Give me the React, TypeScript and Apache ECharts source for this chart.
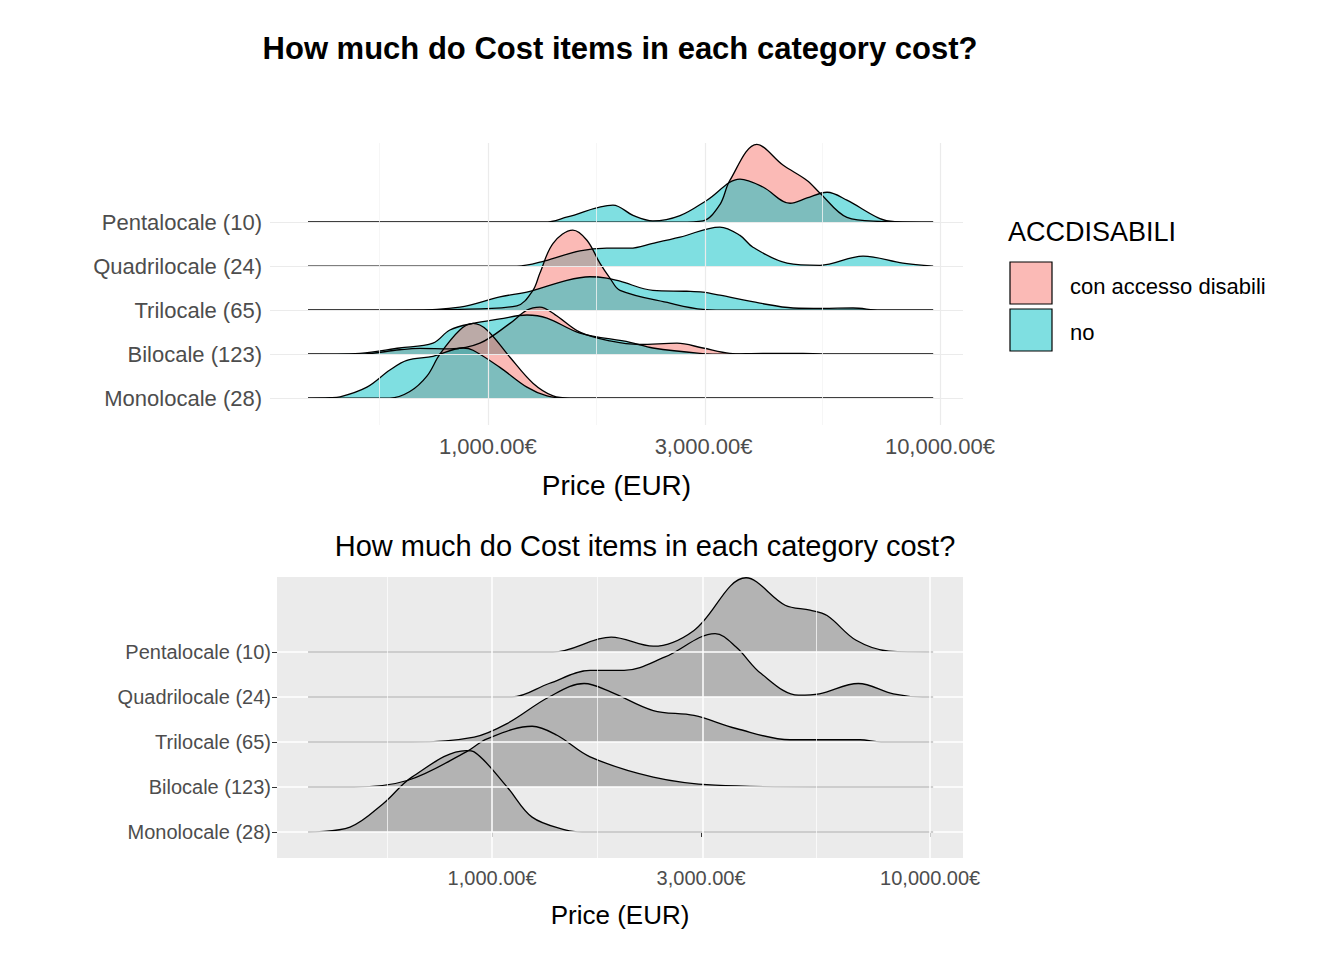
import { useEffect, useRef } from 'react';
import * as echarts from 'echarts';

const rows = ['Monolocale (28)', 'Bilocale (123)', 'Trilocale (65)', 'Quadrilocale (24)', 'Pentalocale (10)'];
const priceTicks = [1000, 3000, 10000];
const majorGrid = [1000, 3000, 10000];
const minorGrid = [577, 1732, 5477];

type Pt = [number, number];

// top chart: [price EUR, ridge height in row units], per row, per group
const pentaPink: Pt[] = [[400, 0], [2661, 0], [2990, 0.03], [3260, 0.4], [3430, 0.95], [3935, 1.77], [4494, 1.3], [5081, 0.95], [5430, 0.66], [6227, 0.11], [7367, 0.02], [9660, 0]];
const pentaNo: Pt[] = [[400, 0], [1337, 0], [1500, 0.12], [1891, 0.39], [2100, 0.15], [2317, 0.03], [2661, 0.15], [3052, 0.5], [3611, 0.98], [4059, 0.8], [4661, 0.43], [5081, 0.55], [5628, 0.68], [6227, 0.5], [7367, 0.08], [7949, 0.01], [9660, 0]];
const quadriNo: Pt[] = [[400, 0], [1159, 0], [1337, 0.12], [1598, 0.35], [1832, 0.41], [2062, 0.41], [2317, 0.52], [2661, 0.66], [3260, 0.89], [3611, 0.7], [3858, 0.43], [4590, 0.07], [5430, 0.02], [6760, 0.23], [8279, 0.07], [9660, 0]];
const triPink: Pt[] = [[400, 0], [867, 0.02], [1159, 0.1], [1258, 0.45], [1303, 0.84], [1394, 1.52], [1541, 1.82], [1656, 1.59], [1769, 1.07], [1862, 0.73], [1960, 0.45], [2528, 0.16], [2990, 0.02], [3500, 0], [9660, 0]];
const triNo: Pt[] = [[400, 0], [672, 0], [867, 0.07], [1063, 0.3], [1239, 0.43], [1495, 0.68], [1682, 0.76], [1832, 0.73], [1960, 0.66], [2317, 0.45], [2754, 0.43], [2990, 0.41], [3260, 0.34], [3998, 0.16], [4731, 0.05], [5500, 0.04], [6423, 0.05], [7367, 0], [9660, 0]];
const biPink: Pt[] = [[400, 0], [521, 0], [638, 0.1], [707, 0.13], [824, 0.12], [960, 0.25], [1119, 0.7], [1220, 1.0], [1303, 1.07], [1407, 0.9], [1598, 0.5], [1862, 0.3], [2168, 0.22], [2620, 0.25], [2990, 0.14], [3430, 0.02], [4000, 0], [9660, 0]];
const biNo: Pt[] = [[400, 0], [521, 0.02], [638, 0.14], [756, 0.25], [824, 0.55], [927, 0.7], [1063, 0.8], [1220, 0.89], [1351, 0.82], [1598, 0.48], [2062, 0.27], [2317, 0.14], [2943, 0.02], [3400, 0], [4059, 0.02], [4979, 0.02], [5500, 0], [9660, 0]];
const monoPink: Pt[] = [[400, 0], [607, 0], [672, 0.15], [733, 0.5], [783, 1.0], [867, 1.55], [927, 1.7], [995, 1.55], [1119, 0.93], [1258, 0.34], [1394, 0.05], [1518, 0], [9660, 0]];
const monoNo: Pt[] = [[400, 0], [447, 0.01], [471, 0.03], [540, 0.25], [607, 0.64], [662, 0.86], [756, 0.95], [881, 1.14], [927, 1.09], [1063, 0.7], [1220, 0.25], [1351, 0.05], [1500, 0], [9660, 0]];

// bottom chart: all groups together
const pentaAll: Pt[] = [[380, 0], [1378, 0], [1870, 0.33], [2333, 0.13], [2890, 0.48], [3800, 1.65], [4667, 1.04], [5322, 0.93], [5817, 0.81], [6777, 0.26], [8053, 0.02], [10160, 0]];
const quadriAll: Pt[] = [[380, 0], [1111, 0], [1349, 0.3], [1674, 0.59], [2002, 0.59], [2483, 0.89], [3229, 1.41], [3606, 1.11], [4113, 0.52], [5005, 0.04], [5585, 0.07], [6854, 0.3], [8240, 0.07], [9590, 0], [10160, 0]];
const triAll: Pt[] = [[380, 0], [656, 0], [910, 0.11], [1082, 0.41], [1349, 1.0], [1622, 1.3], [1870, 1.11], [2333, 0.7], [2890, 0.59], [3606, 0.3], [4786, 0.05], [6919, 0.05], [7727, 0], [10160, 0]];
const biAll: Pt[] = [[380, 0], [484, 0], [643, 0.15], [873, 0.78], [974, 1.07], [1234, 1.35], [1407, 1.15], [1674, 0.67], [2333, 0.22], [3229, 0.04], [5457, 0], [10160, 0]];
const monoAll: Pt[] = [[380, 0], [474, 0.11], [564, 0.63], [656, 1.22], [873, 1.81], [910, 1.78], [1082, 1.0], [1234, 0.33], [1476, 0.04], [1604, 0], [10160, 0]];

const PINK = 'rgba(248,118,109,0.5)';
const CYAN = 'rgba(0,191,196,0.5)';
const GREY = '#B3B3B3';
const FONT = 'Liberation Sans';

function ridge(points: Pt[], base: number, color: string, axis: number) {
  return {
    type: 'line' as const,
    xAxisIndex: axis,
    yAxisIndex: axis,
    data: points.map(([p, h]) => [Math.log10(p), base + h]),
    smooth: 0.35,
    showSymbol: false,
    silent: true,
    lineStyle: { color: '#000', width: 1.3 },
    areaStyle: { color, opacity: 1, origin: base },
  };
}

function gridSeries(axis: number, major: string, minor: string, majorW: number, minorW: number) {
  const v = (p: number, c: string, w: number) => ({ xAxis: Math.log10(p), lineStyle: { color: c, width: w, type: 'solid' as const } });
  return {
    type: 'line' as const,
    xAxisIndex: axis,
    yAxisIndex: axis,
    data: [],
    z: 1,
    markLine: {
      silent: true,
      symbol: ['none', 'none'],
      label: { show: false },
      data: [
        ...majorGrid.map(p => v(p, major, majorW)),
        ...minorGrid.map(p => v(p, minor, minorW)),
        ...rows.map((_, i) => ({ yAxis: i, lineStyle: { color: major, width: majorW, type: 'solid' as const } })),
      ],
    },
  };
}

const fmtPrice = (v: number) =>
  Math.round(Math.pow(10, v)).toLocaleString('en-US', { minimumFractionDigits: 2, maximumFractionDigits: 2 }) + '€';

function xAxis(grid: number, min: number, max: number, fs: number, nameFs: number, gap: number) {
  const vals = priceTicks.map(p => Math.log10(p));
  return {
    type: 'value' as const,
    gridIndex: grid,
    min,
    max,
    name: 'Price (EUR)',
    nameLocation: 'middle' as const,
    nameGap: gap,
    nameTextStyle: { fontSize: nameFs, color: '#000', fontFamily: FONT },
    axisLine: { show: false },
    axisTick: grid === 1 ? { show: true, customValues: vals, length: 5, lineStyle: { color: '#333' } } : { show: false },
    splitLine: { show: false },
    axisLabel: { customValues: vals, formatter: fmtPrice, fontSize: fs, color: '#4D4D4D', fontFamily: FONT, margin: 10 },
  };
}

function yAxis(grid: number, min: number, max: number, fs: number) {
  const vals = rows.map((_, i) => i);
  return {
    type: 'value' as const,
    gridIndex: grid,
    min,
    max,
    axisLine: { show: false },
    axisTick: grid === 1 ? { show: true, customValues: vals, length: 5, lineStyle: { color: '#333' } } : { show: false },
    splitLine: { show: false },
    axisLabel: { customValues: vals, formatter: (v: number) => rows[Math.round(v)] ?? '', fontSize: fs, color: '#4D4D4D', fontFamily: FONT, margin: grid === 1 ? 6 : 8 },
  };
}

export default function App() {
  const ref = useRef<HTMLDivElement>(null);

  useEffect(() => {
    if (!ref.current) return;
    document.body.style.margin = '0';
    const chart = echarts.init(ref.current, null, { renderer: 'svg' });
    chart.setOption({
      animation: false,
      grid: [
        { left: 270, width: 693, top: 143, height: 282 },
        { left: 277, width: 686, top: 577, height: 281, show: true, backgroundColor: '#EBEBEB', borderWidth: 0 },
      ],
      xAxis: [xAxis(0, 2.518, 4.051, 22, 28, 46), xAxis(1, 2.509, 4.075, 20, 26, 44)],
      yAxis: [yAxis(0, -0.61, 5.8, 22), yAxis(1, -0.578, 5.667, 20)],
      series: [
        gridSeries(0, '#EBEBEB', '#F4F4F4', 1.2, 0.8),
        ridge(pentaPink, 4, PINK, 0),
        ridge(pentaNo, 4, CYAN, 0),
        ridge(quadriNo, 3, CYAN, 0),
        ridge(triPink, 2, PINK, 0),
        ridge(triNo, 2, CYAN, 0),
        ridge(biPink, 1, PINK, 0),
        ridge(biNo, 1, CYAN, 0),
        ridge(monoPink, 0, PINK, 0),
        ridge(monoNo, 0, CYAN, 0),
        gridSeries(1, '#FFFFFF', '#FFFFFF', 1.5, 0.7),
        ridge(pentaAll, 4, GREY, 1),
        ridge(quadriAll, 3, GREY, 1),
        ridge(triAll, 2, GREY, 1),
        ridge(biAll, 1, GREY, 1),
        ridge(monoAll, 0, GREY, 1),
      ],
      graphic: [
        { type: 'text', x: 620, y: 48, style: { text: 'How much do Cost items in each category cost?', font: `bold 31px "${FONT}"`, fill: '#000', align: 'center', verticalAlign: 'middle' } },
        { type: 'text', x: 645, y: 546, style: { text: 'How much do Cost items in each category cost?', font: `29px "${FONT}"`, fill: '#000', align: 'center', verticalAlign: 'middle' } },
        { type: 'text', x: 1008, y: 232, style: { text: 'ACCDISABILI', font: `27px "${FONT}"`, fill: '#000', verticalAlign: 'middle' } },
        { type: 'rect', shape: { x: 1010, y: 262, width: 42, height: 42 }, style: { fill: PINK, stroke: '#000', lineWidth: 1.2 } },
        { type: 'rect', shape: { x: 1010, y: 309, width: 42, height: 42 }, style: { fill: CYAN, stroke: '#000', lineWidth: 1.2 } },
        { type: 'text', x: 1070, y: 286, style: { text: 'con accesso disabili', font: `22px "${FONT}"`, fill: '#000', verticalAlign: 'middle' } },
        { type: 'text', x: 1070, y: 332, style: { text: 'no', font: `22px "${FONT}"`, fill: '#000', verticalAlign: 'middle' } },
      ],
    });
    return () => chart.dispose();
  }, []);

  return <div ref={ref} style={{ width: 1344, height: 960 }} />;
}
